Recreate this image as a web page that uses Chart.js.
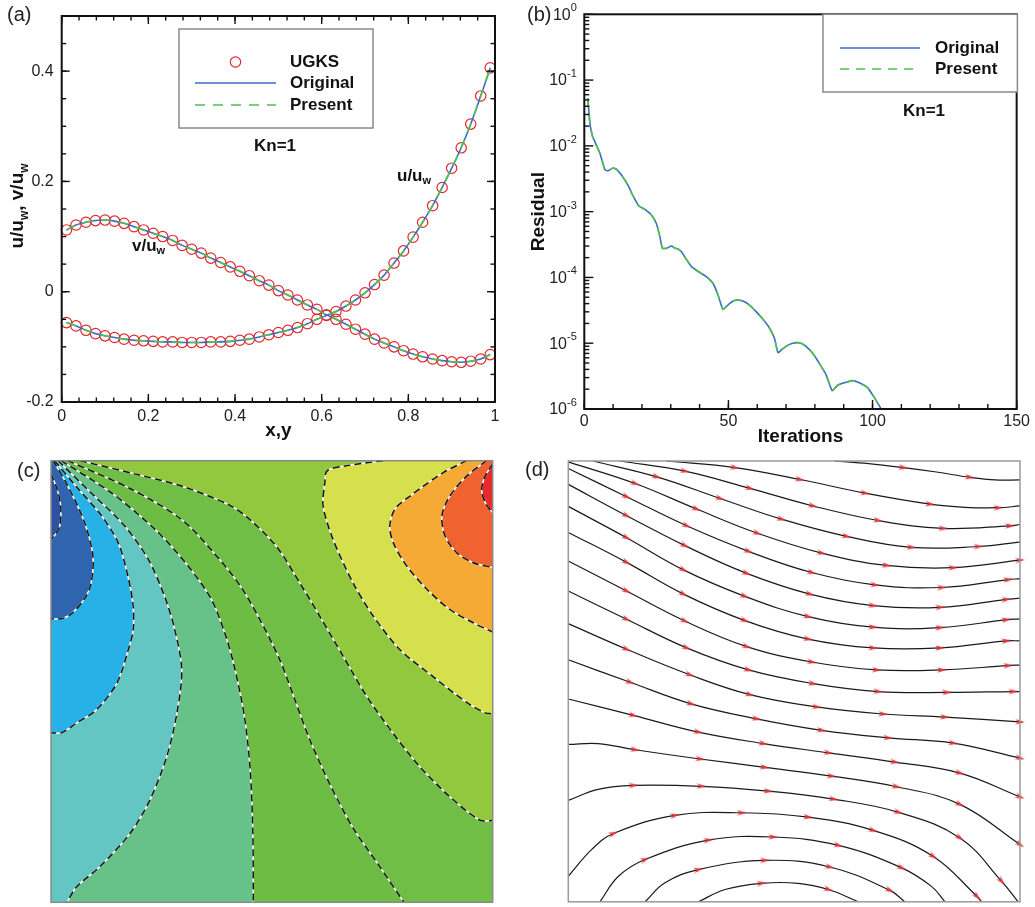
<!DOCTYPE html>
<html><head><meta charset="utf-8">
<script src="https://cdn.jsdelivr.net/npm/chart.js@4.4.1/dist/chart.umd.min.js"></script>
<style>
html,body{margin:0;padding:0;background:#fff}
#wrap{position:relative;width:1035px;height:907px;overflow:hidden;background:#fff}
canvas{position:absolute;display:block}
</style></head><body>
<div id="wrap">
<canvas id="cA" width="520" height="450" style="left:0;top:0"></canvas>
<canvas id="cB" width="515" height="450" style="left:520px;top:0"></canvas>
<canvas id="cC" width="520" height="457" style="left:0;top:450px"></canvas>
<canvas id="cD" width="515" height="457" style="left:520px;top:450px"></canvas>
</div>
<script>
// ---------------- DATA ----------------
// (a) velocity profiles along centre lines
const xyPosition = [0.011,0.033,0.056,0.078,0.100,0.122,0.144,0.167,0.189,0.211,0.233,0.256,0.278,0.300,0.322,0.344,0.367,0.389,0.411,0.433,0.456,0.478,0.500,0.522,0.544,0.567,0.589,0.611,0.633,0.656,0.678,0.700,0.722,0.744,0.767,0.789,0.811,0.833,0.856,0.878,0.900,0.922,0.944,0.967,0.989];
const uUGKS = [-0.056,-0.062,-0.070,-0.076,-0.080,-0.083,-0.086,-0.088,-0.089,-0.090,-0.091,-0.091,-0.092,-0.092,-0.092,-0.091,-0.091,-0.090,-0.088,-0.086,-0.082,-0.078,-0.074,-0.070,-0.065,-0.058,-0.050,-0.043,-0.036,-0.026,-0.015,-0.002,0.013,0.030,0.052,0.074,0.099,0.126,0.156,0.189,0.224,0.261,0.304,0.355,0.406];
const vUGKS = [0.112,0.121,0.126,0.129,0.130,0.128,0.124,0.118,0.112,0.106,0.100,0.093,0.084,0.077,0.070,0.061,0.053,0.045,0.037,0.029,0.020,0.012,0.002,-0.006,-0.015,-0.024,-0.032,-0.042,-0.050,-0.059,-0.068,-0.077,-0.086,-0.093,-0.100,-0.107,-0.113,-0.118,-0.122,-0.125,-0.127,-0.128,-0.126,-0.122,-0.114];
const uOriginal = uUGKS, vOriginal = vUGKS, uPresent = uUGKS, vPresent = vUGKS;
const aXTicks = [0,0.2,0.4,0.6,0.8,1];
const aYTicks = [-0.2,0,0.2,0.4];

// (b) convergence history
const iterations = [1.2,2.0,2.9,3.7,5.4,7.2,8.3,10.0,11.2,12.9,15.2,17.0,18.9,21.0,23.3,25.0,26.2,27.1,28.5,30.2,31.4,32.5,33.7,35.4,37.2,39.5,42.3,44.7,46.4,48.1,49.8,51.6,53.3,55.0,57.3,59.7,62.0,64.3,66.0,67.2,68.9,71.2,73.5,75.2,77.0,79.3,81.6,83.9,86.0,87.9,90.2,93.1,95.4,98.3,100.6,103.0];
const residual = [0.053,0.021,0.0138,0.0115,0.0077,0.0043,0.0042,0.0046,0.0044,0.0036,0.0025,0.0017,0.00123,0.00108,0.00089,0.00066,0.00042,0.000277,0.000277,0.0003,0.00028,0.00027,0.000245,0.000188,0.000146,0.000123,0.000103,0.000081,0.000054,0.0000327,0.000038,0.0000437,0.0000455,0.0000437,0.000038,0.000030,0.0000231,0.0000169,0.0000118,0.0000072,0.0000083,0.0000096,0.0000102,0.0000100,0.0000089,0.000007,0.0000049,0.0000033,0.0000019,0.0000023,0.0000025,0.0000027,0.0000025,0.0000021,0.0000015,0.000001];
const residualOriginal = residual, residualPresent = residual;
const bXTicks = [0,50,100,150];
const bYExponents = [-6,-5,-4,-3,-2,-1,0];

// (c) contour lines (x, y in cavity units, y up)
const contour1 = [[0,0.970],[0.014,0.935],[0.022,0.897],[0.020,0.853],[0.010,0.833],[0,0.822]];
const contour2 = [[0.005,1.0],[0.038,0.943],[0.076,0.860],[0.095,0.784],[0.091,0.724],[0.076,0.687],[0.046,0.653],[0.023,0.642],[0,0.642]];
const contour3 = [[0.008,1.0],[0.061,0.937],[0.114,0.876],[0.152,0.814],[0.174,0.739],[0.186,0.671],[0.186,0.617],[0.175,0.572],[0.149,0.496],[0.103,0.436],[0.058,0.406],[0.024,0.384],[0,0.384]];
const contour4 = [[0.016,1.0],[0.091,0.927],[0.167,0.852],[0.220,0.777],[0.257,0.693],[0.280,0.618],[0.296,0.526],[0.285,0.428],[0.262,0.330],[0.224,0.232],[0.179,0.156],[0.111,0.081],[0.058,0.035],[0.036,0]];
const contour5 = [[0.023,1.0],[0.137,0.927],[0.235,0.845],[0.310,0.762],[0.363,0.686],[0.393,0.611],[0.415,0.534],[0.438,0.420],[0.451,0.300],[0.457,0.156],[0.458,0]];
const contour6 = [[0.038,1.0],[0.181,0.936],[0.294,0.868],[0.369,0.791],[0.428,0.717],[0.473,0.640],[0.518,0.549],[0.552,0.459],[0.586,0.368],[0.632,0.266],[0.684,0.168],[0.740,0.087],[0.799,0]];
const contour7 = [[0.066,1.0],[0.186,0.971],[0.300,0.941],[0.405,0.899],[0.451,0.866],[0.511,0.805],[0.564,0.722],[0.609,0.647],[0.662,0.556],[0.715,0.466],[0.775,0.382],[0.835,0.307],[0.903,0.239],[0.971,0.186],[1.0,0.185]];
const contour8 = [[0.752,1.0],[0.666,0.988],[0.625,0.977],[0.620,0.950],[0.616,0.898],[0.638,0.823],[0.684,0.723],[0.729,0.649],[0.790,0.572],[0.865,0.511],[0.942,0.452],[0.983,0.429],[1.0,0.427]];
const contour9 = [[0.941,1.0],[0.888,0.973],[0.813,0.920],[0.779,0.891],[0.767,0.852],[0.775,0.814],[0.805,0.762],[0.851,0.709],[0.903,0.663],[0.956,0.633],[1.0,0.612]];
const contour10 = [[0.986,1.0],[0.941,0.965],[0.903,0.920],[0.885,0.875],[0.892,0.830],[0.918,0.792],[0.956,0.769],[1.0,0.758]];
const contour11 = [[1.0,0.993],[0.983,0.965],[0.975,0.935],[0.983,0.905],[1.0,0.882]];
const bandColors = ['#2b52a3','#2f64ae','#28b1e6','#63c6c3','#67c289','#6dbd45','#70be45','#92c83e','#d5e04c','#f5aa36','#f16231','#e9292c'];

// (d) streamlines: [x, y, arrow]
const stream1 = [[0.590,1.0,0],[0.665,0.994,0],[0.742,0.985,1],[0.815,0.975,0],[0.889,0.963,1],[0.945,0.957,0],[1.0,0.957,0]];
const stream2 = [[0.218,1.0,0],[0.369,0.985,1],[0.513,0.958,1],[0.657,0.927,1],[0.801,0.902,1],[0.878,0.895,0],[0.952,0.894,1],[1.0,0.898,0]];
const stream3 = [[0.114,1.0,0],[0.258,0.977,1],[0.402,0.938,1],[0.542,0.898,1],[0.686,0.865,1],[0.830,0.847,1],[0.978,0.853,1],[1.0,0.856,0]];
const stream4 = [[0.055,1.0,0],[0.196,0.964,1],[0.336,0.915,1],[0.472,0.868,1],[0.616,0.829,1],[0.760,0.804,1],[0.908,0.806,1],[1.0,0.816,0]];
const stream5 = [[0.0,0.998,0],[0.148,0.949,1],[0.284,0.891,1],[0.419,0.836,1],[0.561,0.791,1],[0.705,0.763,1],[0.852,0.758,1],[1.0,0.775,1]];
const stream6 = [[0.0,0.983,0],[0.129,0.919,1],[0.262,0.853,1],[0.399,0.795,1],[0.539,0.747,1],[0.679,0.719,1],[0.827,0.713,1],[0.974,0.731,1],[1.0,0.733,0]];
const stream7 = [[0.0,0.947,0],[0.129,0.876,1],[0.258,0.808,1],[0.395,0.745,1],[0.535,0.698,1],[0.675,0.672,1],[0.823,0.668,1],[0.970,0.686,1],[1.0,0.689,0]];
const stream8 = [[0.0,0.897,0],[0.129,0.826,1],[0.255,0.753,1],[0.391,0.693,1],[0.531,0.647,1],[0.675,0.623,1],[0.823,0.622,1],[0.970,0.640,1],[1.0,0.642,0]];
const stream9 = [[0.0,0.838,0],[0.129,0.770,1],[0.255,0.698,1],[0.391,0.638,1],[0.531,0.596,1],[0.675,0.576,1],[0.823,0.576,1],[0.970,0.592,1],[1.0,0.592,0]];
const stream10 = [[0.0,0.773,0],[0.129,0.705,1],[0.258,0.637,1],[0.395,0.579,1],[0.539,0.544,1],[0.683,0.526,1],[0.827,0.526,1],[0.974,0.536,1],[1.0,0.537,0]];
const stream11 = [[0.0,0.705,0],[0.129,0.641,1],[0.262,0.576,1],[0.399,0.526,1],[0.542,0.495,1],[0.686,0.477,1],[0.838,0.475,1],[0.985,0.477,1],[1.0,0.477,0]];
const stream12 = [[0.0,0.631,0],[0.129,0.573,1],[0.269,0.515,1],[0.402,0.470,1],[0.550,0.442,1],[0.697,0.426,1],[0.834,0.419,1],[1.0,0.408,1]];
const stream13 = [[0.0,0.549,0],[0.137,0.498,1],[0.272,0.449,1],[0.417,0.415,1],[0.561,0.389,1],[0.708,0.372,1],[0.852,0.360,1],[1.0,0.326,1]];
const stream14 = [[0.0,0.460,0],[0.144,0.423,1],[0.288,0.385,1],[0.432,0.359,1],[0.576,0.338,1],[0.723,0.317,1],[0.867,0.292,1],[1.0,0.238,1]];
const stream15 = [[0.0,0.357,0],[0.066,0.359,0],[0.148,0.345,1],[0.292,0.324,1],[0.435,0.305,1],[0.583,0.285,1],[0.727,0.261,1],[0.867,0.221,1],[1.0,0.130,1]];
const stream16 = [[0.0,0.230,0],[0.066,0.255,0],[0.144,0.264,1],[0.295,0.262,1],[0.443,0.251,1],[0.587,0.233,1],[0.731,0.203,1],[0.867,0.145,1],[0.959,0.047,1],[0.996,0.0,0]];
const stream17 = [[0.0,0.058,0],[0.052,0.119,0],[0.100,0.155,1],[0.236,0.196,1],[0.384,0.202,1],[0.531,0.192,1],[0.675,0.162,1],[0.808,0.103,1],[0.905,0.012,1],[0.915,0.0,0]];
const stream18 = [[0.070,0.0,0],[0.111,0.058,0],[0.170,0.096,1],[0.310,0.140,1],[0.454,0.147,1],[0.598,0.128,1],[0.738,0.077,1],[0.804,0.035,0],[0.834,0.0,0]];
const stream19 = [[0.170,0.0,0],[0.214,0.043,0],[0.288,0.073,1],[0.435,0.094,1],[0.579,0.079,1],[0.712,0.026,1],[0.745,0.0,0]];
const stream20 = [[0.288,0.0,0],[0.347,0.028,0],[0.428,0.042,1],[0.509,0.042,0],[0.576,0.028,1],[0.642,0.0,0]];

// ---------------- STYLE / HELPERS ----------------
const FONT = '"Liberation Sans", Arial, Helvetica, sans-serif';
Chart.defaults.font.family = FONT;
Chart.defaults.color = '#222';
const BLUE = '#3b6cc7', GREEN = '#4ec24b', RED = '#e2262d';
const pts = (xs, ys) => xs.map((x, i) => ({x, y: ys[i]}));
const range = (a, b, s) => { const o = []; for (let v = a; v <= b + 1e-9; v += s) o.push(+v.toFixed(6)); return o; };
const fmt = v => String(+(+v).toFixed(2));

function drawRich(ctx, parts, x, y, o) {
  let w = 0;
  parts.forEach(p => { ctx.font = p.s ? o.small : o.main; w += ctx.measureText(p.t).width; });
  let cx = o.align === 'center' ? x - w / 2 : (o.align === 'right' ? x - w : x);
  ctx.textAlign = 'left';
  ctx.textBaseline = o.baseline || 'middle';
  parts.forEach(p => {
    ctx.font = p.s ? o.small : o.main;
    const dy = p.s === 'sub' ? (o.subDy || 5) : (p.s === 'sup' ? (o.supDy || -7) : 0);
    ctx.fillText(p.t, cx, y + dy);
    cx += ctx.measureText(p.t).width;
  });
}

const textPlugin = {
  id: 'texts',
  afterDraw(chart, args, opts) {
    const ctx = chart.ctx;
    (opts.items || []).forEach(it => {
      ctx.save();
      ctx.fillStyle = it.color || '#111';
      if (it.rotate) { ctx.translate(it.x, it.y); ctx.rotate(-Math.PI / 2); drawRich(ctx, it.parts, 0, 0, it); }
      else drawRich(ctx, it.parts, it.x, it.y, it);
      ctx.restore();
    });
    (opts.legend || []).forEach(lg => {
      ctx.save();
      ctx.fillStyle = '#fff'; ctx.fillRect(lg.box[0], lg.box[1], lg.box[2], lg.box[3]);
      ctx.strokeStyle = '#8a8a8a'; ctx.lineWidth = 1.5;
      ctx.strokeRect(lg.box[0], lg.box[1], lg.box[2], lg.box[3]);
      lg.rows.forEach(r => {
        if (r.kind === 'circle') {
          ctx.beginPath(); ctx.arc((r.x0 + r.x1) / 2, r.y, 5.2, 0, Math.PI * 2);
          ctx.strokeStyle = RED; ctx.lineWidth = 1.2; ctx.stroke();
        } else {
          ctx.beginPath(); ctx.moveTo(r.x0, r.y); ctx.lineTo(r.x1, r.y);
          ctx.strokeStyle = r.color; ctx.lineWidth = 1.6; ctx.setLineDash(r.dash || []); ctx.stroke(); ctx.setLineDash([]);
        }
        ctx.fillStyle = '#111'; ctx.font = 'bold 17px ' + FONT; ctx.textAlign = 'left'; ctx.textBaseline = 'middle';
        ctx.fillText(r.label, r.tx, r.y);
      });
      ctx.restore();
    });
  }
};

const axisDeco = {
  id: 'axisDeco',
  afterDraw(chart, args, o) {
    if (!o || !o.on) return;
    const {ctx, chartArea: a, scales} = chart;
    ctx.save();
    ctx.strokeStyle = o.color; ctx.lineWidth = o.tickWidth;
    const xs = scales.x, ys = scales.y;
    const tx = (vals, len) => vals.forEach(v => {
      const p = xs.getPixelForValue(v);
      ctx.beginPath(); ctx.moveTo(p, a.bottom); ctx.lineTo(p, a.bottom - len); ctx.stroke();
      if (o.mirror) { ctx.beginPath(); ctx.moveTo(p, a.top); ctx.lineTo(p, a.top + len); ctx.stroke(); }
    });
    const ty = (vals, len) => vals.forEach(v => {
      const p = ys.getPixelForValue(v);
      ctx.beginPath(); ctx.moveTo(a.left, p); ctx.lineTo(a.left + len, p); ctx.stroke();
      if (o.mirror) { ctx.beginPath(); ctx.moveTo(a.right, p); ctx.lineTo(a.right - len, p); ctx.stroke(); }
    });
    tx(o.xMinor, o.minorLen); tx(o.xMajor, o.majorLen);
    ty(o.yMinor, o.minorLen); ty(o.yMajor, o.majorLen);
    ctx.lineWidth = o.frameWidth;
    ctx.strokeRect(a.left, a.top, a.right - a.left, a.bottom - a.top);
    if (o.logLabels) {
      ctx.fillStyle = '#222';
      o.logLabels.forEach(k => {
        const p = ys.getPixelForValue(Math.pow(10, k));
        drawRich(ctx, [{t: '10'}, {t: String(k), s: 'sup'}], a.left - 7.5, p + 1,
          {main: '16px ' + FONT, small: '11px ' + FONT, align: 'right', supDy: -7});
      });
    }
    ctx.restore();
  }
};

const framePlugin = {
  id: 'frame',
  beforeDatasetsDraw(chart, args, o) {
    if (!o || !o.bg) return;
    const {ctx, chartArea: a} = chart;
    ctx.save(); ctx.fillStyle = o.bg; ctx.fillRect(a.left, a.top, a.right - a.left, a.bottom - a.top); ctx.restore();
  },
  afterDraw(chart, args, o) {
    if (!o || !o.color) return;
    const {ctx, chartArea: a} = chart;
    ctx.save(); ctx.strokeStyle = o.color; ctx.lineWidth = o.width;
    ctx.strokeRect(a.left, a.top, a.right - a.left, a.bottom - a.top); ctx.restore();
  }
};

const baseOpts = {responsive: false, animation: false, events: [], plugins: {legend: {display: false}, tooltip: {enabled: false}}};
const noGrid = {display: false, drawTicks: false};

// ---------------- (a) ----------------
const lineDs = (ys, color, dash, order) => ({data: pts(xyPosition, ys), borderColor: color, borderDash: dash, borderWidth: 1.6, pointRadius: 0, tension: 0.3, fill: false, order});
const circDs = ys => ({data: pts(xyPosition, ys), showLine: false, pointStyle: 'circle', pointRadius: 5.2, pointBorderColor: RED, pointBackgroundColor: 'rgba(0,0,0,0)', pointBorderWidth: 1.2, order: 2, clip: false});
new Chart(document.getElementById('cA'), {
  type: 'line',
  data: {datasets: [
    lineDs(uPresent, GREEN, [10, 8], 0), lineDs(vPresent, GREEN, [10, 8], 0),
    lineDs(uOriginal, BLUE, [], 1), lineDs(vOriginal, BLUE, [], 1),
    circDs(uUGKS), circDs(vUGKS)
  ]},
  options: Object.assign({}, baseOpts, {
    layout: {padding: {top: 8.3, right: 25, left: 0, bottom: 0}},
    scales: {
      x: {type: 'linear', min: 0, max: 1,
        afterBuildTicks: s => { s.ticks = aXTicks.map(v => ({value: v})); },
        afterFit: s => { s.height = 48; },
        grid: noGrid, border: {display: false},
        ticks: {font: {size: 16, lineHeight: 1}, padding: 7, color: '#222', maxRotation: 0, callback: fmt},
        title: {display: true, text: 'x,y', font: {size: 19, weight: 'bold'}, color: '#111', padding: {top: 0, bottom: 8}}},
      y: {type: 'linear', min: -0.2, max: 0.5,
        afterBuildTicks: s => { s.ticks = aYTicks.map(v => ({value: v})); },
        afterFit: s => { s.width = 61.7; },
        grid: noGrid, border: {display: false},
        ticks: {font: {size: 16, lineHeight: 1}, padding: 8, color: '#222', callback: fmt}}
    },
    plugins: Object.assign({}, baseOpts.plugins, {
      axisDeco: {on: true, color: '#111', tickWidth: 1.4, frameWidth: 2, mirror: true,
        xMajor: aXTicks, xMinor: range(0, 1, 0.04), yMajor: aYTicks, yMinor: range(-0.2, 0.5, 0.05), majorLen: 8, minorLen: 4.5},
      texts: {
        items: [
          {parts: [{t: '(a)'}], x: 7, y: 15, main: '20px ' + FONT, align: 'left', color: '#222'},
          {parts: [{t: 'Kn=1'}], x: 275, y: 146, main: 'bold 17px ' + FONT, align: 'center'},
          {parts: [{t: 'u/u'}, {t: 'w', s: 'sub'}], x: 397, y: 176, main: 'bold 17px ' + FONT, small: 'bold 11px ' + FONT, align: 'left', subDy: 5},
          {parts: [{t: 'v/u'}, {t: 'w', s: 'sub'}], x: 132, y: 246, main: 'bold 17px ' + FONT, small: 'bold 11px ' + FONT, align: 'left', subDy: 5},
          {parts: [{t: 'u/u'}, {t: 'w', s: 'sub'}, {t: ', v/u'}, {t: 'w', s: 'sub'}], x: 23, y: 206, rotate: true, baseline: 'alphabetic',
            main: 'bold 19px ' + FONT, small: 'bold 12px ' + FONT, align: 'center', subDy: 5}
        ],
        legend: [{box: [179, 29, 194, 99], rows: [
          {kind: 'circle', x0: 195, x1: 276, y: 62, label: 'UGKS', tx: 290},
          {kind: 'line', color: BLUE, x0: 195, x1: 276, y: 83, label: 'Original', tx: 290},
          {kind: 'line', color: GREEN, dash: [10, 8], x0: 195, x1: 276, y: 105, label: 'Present', tx: 290}
        ]}]
      }
    })
  }),
  plugins: [axisDeco, textPlugin]
});

// ---------------- (b) ----------------
const yMinorB = [];
bYExponents.slice(0, -1).forEach(k => { for (let m = 2; m <= 9; m++) yMinorB.push(m * Math.pow(10, k)); });
new Chart(document.getElementById('cB'), {
  type: 'line',
  data: {datasets: [
    {data: pts(iterations, residualPresent), borderColor: GREEN, borderDash: [9, 7], borderWidth: 1.6, pointRadius: 0, tension: 0.15, order: 0},
    {data: pts(iterations, residualOriginal), borderColor: BLUE, borderWidth: 1.6, pointRadius: 0, tension: 0.15, order: 1}
  ]},
  options: Object.assign({}, baseOpts, {
    layout: {padding: {top: 14.3, right: 17.3, left: 0, bottom: 0}},
    scales: {
      x: {type: 'linear', min: 0, max: 150,
        afterBuildTicks: s => { s.ticks = bXTicks.map(v => ({value: v})); },
        afterFit: s => { s.height = 41; },
        grid: noGrid, border: {display: false},
        ticks: {font: {size: 16, lineHeight: 1}, padding: 5, color: '#222', maxRotation: 0},
        title: {display: true, text: 'Iterations', font: {size: 19, weight: 'bold'}, color: '#111', padding: {top: 0, bottom: 2}}},
      y: {type: 'logarithmic', min: 1e-6, max: 1,
        afterFit: s => { s.width = 64.3; },
        grid: noGrid, border: {display: false},
        ticks: {display: false},
        title: {display: true, text: 'Residual', font: {size: 19, weight: 'bold'}, color: '#111', padding: {top: 7, bottom: 0}}}
    },
    plugins: Object.assign({}, baseOpts.plugins, {
      axisDeco: {on: true, color: '#111', tickWidth: 1.4, frameWidth: 2, mirror: false,
        xMajor: bXTicks, xMinor: range(0, 150, 10), yMajor: bYExponents.map(k => Math.pow(10, k)), yMinor: yMinorB,
        majorLen: 9, minorLen: 5, logLabels: bYExponents},
      texts: {
        items: [
          {parts: [{t: '(b)'}], x: 7, y: 15, main: '20px ' + FONT, align: 'left', color: '#222'},
          {parts: [{t: 'Kn=1'}], x: 404, y: 111, main: 'bold 17px ' + FONT, align: 'center'}
        ],
        legend: [{box: [303, 14.3, 194.4, 77.7], rows: [
          {kind: 'line', color: BLUE, x0: 320, x1: 400, y: 48, label: 'Original', tx: 415},
          {kind: 'line', color: GREEN, dash: [9, 7], x0: 320, x1: 400, y: 69, label: 'Present', tx: 415}
        ]}]
      }
    })
  }),
  plugins: [axisDeco, textPlugin]
});

// ---------------- (c) ----------------
const contours = [contour1, contour2, contour3, contour4, contour5, contour6, contour7, contour8, contour9, contour10, contour11];
const EXT = 0.25;
const perimPos = ([x, y]) => y <= 0.002 ? x : (x >= 0.998 ? 1 + y : (y >= 0.998 ? 3 - x : 4 - y));
const outward = ([x, y]) => y <= 0.002 ? [x, -EXT] : (x >= 0.998 ? [1 + EXT, y] : (y >= 0.998 ? [x, 1 + EXT] : [-EXT, y]));
const cornerOut = [[1 + EXT, -EXT], [1 + EXT, 1 + EXT], [-EXT, 1 + EXT], [-EXT, -EXT]];
function bandPolygon(line) {
  const start = line[0], end = line[line.length - 1];
  const s0 = perimPos(end); let s1 = perimPos(start);
  if (s1 <= s0) s1 += 4;
  const poly = line.slice();
  poly.push(outward(end));
  for (let c = Math.floor(s0) + 1; c < s1; c++) poly.push(cornerOut[(c - 1) % 4]);
  poly.push(outward(start));
  return poly;
}
const toXY = arr => arr.map(p => ({x: p[0], y: p[1]}));
const cDatasets = [];
contours.forEach((ln, k) => {
  cDatasets.push({data: toXY(bandPolygon(ln)), fill: 'shape', backgroundColor: bandColors[k + 1], borderWidth: 0, pointRadius: 0, tension: 0.3, order: 200 - k});
});
contours.forEach(ln => {
  cDatasets.push({data: toXY(ln), borderColor: '#ffffff', borderWidth: 1.5, pointRadius: 0, tension: 0.3, fill: false, order: 2});
  cDatasets.push({data: toXY(ln), borderColor: '#111111', borderWidth: 1.5, borderDash: [7, 4], pointRadius: 0, tension: 0.3, fill: false, order: 1});
});
new Chart(document.getElementById('cC'), {
  type: 'line',
  data: {datasets: cDatasets},
  options: Object.assign({}, baseOpts, {
    layout: {padding: {left: 51, top: 10.7, right: 27.3, bottom: 4.7}},
    scales: {x: {type: 'linear', min: 0, max: 1, display: false}, y: {type: 'linear', min: 0, max: 1, display: false}},
    plugins: Object.assign({}, baseOpts.plugins, {
      frame: {bg: bandColors[0], color: '#8a8a8a', width: 1.5},
      texts: {items: [{parts: [{t: '(c)'}], x: 17, y: 21, main: '20px ' + FONT, align: 'left', color: '#222'}]}
    })
  }),
  plugins: [framePlugin, textPlugin]
});

// ---------------- (d) ----------------
const streams = [stream1, stream2, stream3, stream4, stream5, stream6, stream7, stream8, stream9, stream10, stream11, stream12, stream13, stream14, stream15, stream16, stream17, stream18, stream19, stream20];
const arrowImg = (() => {
  const c = document.createElement('canvas'); c.width = 10; c.height = 6;
  const g = c.getContext('2d'); g.fillStyle = '#e0333b';
  g.beginPath(); g.moveTo(10, 3); g.lineTo(0, 0.3); g.lineTo(3.2, 3); g.lineTo(0, 5.7); g.closePath(); g.fill();
  return c;
})();
const arrowRotation = ctx => {
  const d = ctx.dataset.data, i = ctx.dataIndex;
  const a = d[Math.max(0, i - 1)], b = d[Math.min(d.length - 1, i + 1)];
  const ca = ctx.chart.chartArea || {left: 0, right: 1, top: 0, bottom: 1};
  return Math.atan2(-(b.y - a.y) * (ca.bottom - ca.top), (b.x - a.x) * (ca.right - ca.left)) * 180 / Math.PI;
};
new Chart(document.getElementById('cD'), {
  type: 'line',
  data: {datasets: streams.map(s => ({
    data: s.map(p => ({x: p[0], y: p[1], a: p[2]})),
    borderColor: '#1a1a1a', borderWidth: 1.2, tension: 0.4, fill: false,
    pointStyle: arrowImg,
    pointRadius: c => (c.raw && c.raw.a ? 4 : 0),
    pointRotation: arrowRotation,
    clip: false
  }))},
  options: Object.assign({}, baseOpts, {
    layout: {padding: {left: 48.3, top: 11, right: 15, bottom: 4.7}},
    scales: {x: {type: 'linear', min: 0, max: 1, display: false}, y: {type: 'linear', min: 0, max: 1, display: false}},
    plugins: Object.assign({}, baseOpts.plugins, {
      frame: {color: '#9a9a9a', width: 1.5},
      texts: {items: [{parts: [{t: '(d)'}], x: 5, y: 20, main: '20px ' + FONT, align: 'left', color: '#222'}]}
    })
  }),
  plugins: [framePlugin, textPlugin]
});
</script>
</body></html>
